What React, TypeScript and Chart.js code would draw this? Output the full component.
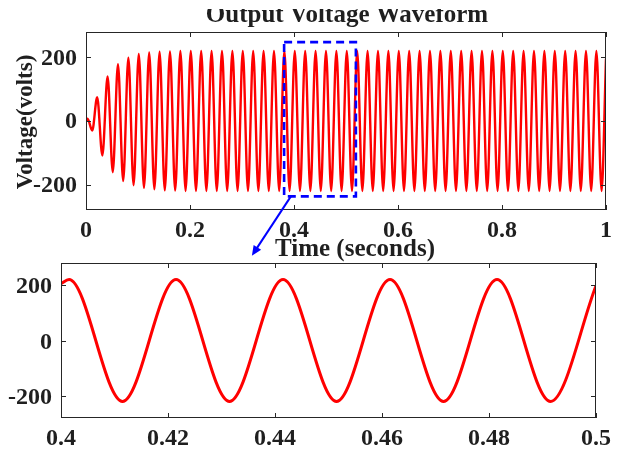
import { useEffect, useRef } from "react";
import { Chart, registerables } from "chart.js";

Chart.register(...registerables);

// Full run: turning points of the inverter output voltage (seconds, volts)
const overviewTimes = [
  0, 0.003, 0.012,
  0.0215, 0.0315, 0.0415, 0.0515, 0.0615, 0.0715, 0.0815, 0.0915, 0.1015, 0.1115,
  0.1215, 0.1315, 0.1415, 0.1515, 0.1615, 0.1715, 0.1815, 0.1915, 0.2015, 0.2115,
  0.2215, 0.2315, 0.2415, 0.2515, 0.2615, 0.2715, 0.2815, 0.2915, 0.3015, 0.3115,
  0.3215, 0.3315, 0.3415, 0.3515, 0.3615, 0.3715, 0.3815, 0.3915, 0.4015, 0.4115,
  0.4215, 0.4315, 0.4415, 0.4515, 0.4615, 0.4715, 0.4815, 0.4915, 0.5015, 0.5115,
  0.5215, 0.5315, 0.5415, 0.5515, 0.5615, 0.5715, 0.5815, 0.5915, 0.6015, 0.6115,
  0.6215, 0.6315, 0.6415, 0.6515, 0.6615, 0.6715, 0.6815, 0.6915, 0.7015, 0.7115,
  0.7215, 0.7315, 0.7415, 0.7515, 0.7615, 0.7715, 0.7815, 0.7915, 0.8015, 0.8115,
  0.8215, 0.8315, 0.8415, 0.8515, 0.8615, 0.8715, 0.8815, 0.8915, 0.9015, 0.9115,
  0.9215, 0.9315, 0.9415, 0.9515, 0.9615, 0.9715, 0.9815, 0.9915,
  1,
];
const overviewVolts = [
  0, 7, -30,
  75, -109, 140, -161, 179, -189, 199, -202, 211, -210,
  216, -215, 218, -218, 219, -219, 220, -220, 220, -220,
  220, -220, 220, -220, 220, -220, 220, -220, 220, -220,
  220, -220, 220, -220, 220, -220, 220, -220, 220, -220,
  220, -220, 220, -220, 220, -220, 220, -220, 220, -220,
  220, -220, 220, -220, 220, -220, 220, -220, 220, -220,
  220, -220, 220, -220, 220, -220, 220, -220, 220, -220,
  220, -220, 220, -220, 220, -220, 220, -220, 220, -220,
  220, -220, 220, -220, 220, -220, 220, -220, 220, -220,
  220, -220, 220, -220, 220, -220, 220, -220,
  196,
];
const overviewTicks = [0, 0.2, 0.4, 0.6, 0.8, 1];

// Close-up of 0.4 s to 0.5 s
const detailTimes = [0.4, 0.4015, 0.4115, 0.4215, 0.4315, 0.4415, 0.4515, 0.4615, 0.4715, 0.4815, 0.4915, 0.5];
const detailVolts = [205, 220, -220, 220, -220, 220, -220, 220, -220, 220, -220, 198];
const detailTicks = [0.4, 0.42, 0.44, 0.46, 0.48, 0.5];

const voltTicks = [-200, 0, 200];
const voltRange = [-280, 280];

// Highlighted window and the pointer to the close-up (overview axis units)
const windowTimes = [0.381, 0.519];
const windowVolts = [-237, 248];
const pointerFrom = [0.394, -237];
const pointerTo = [0.319, -424];

const SERIF = '"Liberation Serif", "Times New Roman", serif';
const INK = "#1f1f1f";
const AXIS = "#262626";
const RED = "#ff0000";
const BLUE = "#0000ff";
const TICK_LEN = 5;

type PanelStyle = {
  xTicks: number[];
  yTicks: number[];
  fontSize: number;
  xLabelDrop: number;
  yLabelGap: number;
  yLabelShift: number;
  decorate?: (chart: Chart) => void;
};

const toPoints = (xs: number[], ys: number[]) => xs.map((x, i) => ({ x, y: ys[i] }));

function panelPlugin(style: PanelStyle) {
  return {
    id: "panelFrame",
    afterDatasetsDraw(chart: Chart) {
      const { ctx, chartArea: a } = chart;
      const xs = chart.scales.x;
      const ys = chart.scales.y;
      ctx.save();
      ctx.setLineDash([]);
      ctx.strokeStyle = AXIS;
      ctx.lineWidth = 1;
      ctx.strokeRect(a.left + 0.5, a.top + 0.5, a.right - a.left - 1, a.bottom - a.top - 1);

      // inward tick marks on all four sides
      ctx.beginPath();
      for (const v of style.xTicks) {
        const px = Math.round(xs.getPixelForValue(v)) + 0.5;
        ctx.moveTo(px, a.bottom);
        ctx.lineTo(px, a.bottom - TICK_LEN);
        ctx.moveTo(px, a.top);
        ctx.lineTo(px, a.top + TICK_LEN);
      }
      for (const v of style.yTicks) {
        const py = Math.round(ys.getPixelForValue(v)) + 0.5;
        ctx.moveTo(a.left, py);
        ctx.lineTo(a.left + TICK_LEN, py);
        ctx.moveTo(a.right, py);
        ctx.lineTo(a.right - TICK_LEN, py);
      }
      ctx.stroke();

      ctx.fillStyle = INK;
      ctx.font = `bold ${style.fontSize}px ${SERIF}`;
      ctx.textBaseline = "middle";
      ctx.textAlign = "center";
      for (const v of style.xTicks) {
        ctx.fillText(String(v), xs.getPixelForValue(v), a.bottom + style.xLabelDrop);
      }
      ctx.textAlign = "right";
      for (const v of style.yTicks) {
        ctx.fillText(String(v), a.left - style.yLabelGap, ys.getPixelForValue(v) + style.yLabelShift);
      }
      ctx.restore();

      if (style.decorate) style.decorate(chart);
    },
  };
}

function decorateOverview(chart: Chart) {
  const { ctx, chartArea: a } = chart;
  const xs = chart.scales.x;
  const ys = chart.scales.y;
  const midX = (a.left + a.right) / 2;

  ctx.save();
  ctx.fillStyle = INK;

  // title, its top trimmed by the figure edge
  ctx.save();
  ctx.beginPath();
  ctx.rect(0, a.top - 23, chart.width, 40);
  ctx.clip();
  ctx.font = `bold 25px ${SERIF}`;
  ctx.textAlign = "center";
  ctx.textBaseline = "alphabetic";
  ctx.fillText("Output Voltage Waveform", midX + 1, a.top - 10);
  ctx.restore();

  // vertical axis title
  ctx.save();
  ctx.translate(a.left - 54, (a.top + a.bottom) / 2 + 1);
  ctx.rotate(-Math.PI / 2);
  ctx.font = `bold 23px ${SERIF}`;
  ctx.textAlign = "center";
  ctx.textBaseline = "alphabetic";
  ctx.fillText("Voltage(volts)", 0, 0);
  ctx.restore();

  // dashed window around the close-up interval
  const wx0 = xs.getPixelForValue(windowTimes[0]);
  const wx1 = xs.getPixelForValue(windowTimes[1]);
  const wy0 = ys.getPixelForValue(windowVolts[1]);
  const wy1 = ys.getPixelForValue(windowVolts[0]);
  ctx.strokeStyle = BLUE;
  ctx.lineWidth = 2.6;
  ctx.setLineDash([8, 5]);
  ctx.strokeRect(wx0, wy0, wx1 - wx0, wy1 - wy0);
  ctx.setLineDash([]);

  // pointer down to the close-up panel
  const ax0 = xs.getPixelForValue(pointerFrom[0]);
  const ay0 = ys.getPixelForValue(pointerFrom[1]);
  const ax1 = xs.getPixelForValue(pointerTo[0]);
  const ay1 = ys.getPixelForValue(pointerTo[1]);
  const ang = Math.atan2(ay1 - ay0, ax1 - ax0);
  const head = 11;
  const spread = 0.42;
  ctx.lineWidth = 2;
  ctx.beginPath();
  ctx.moveTo(ax0, ay0);
  ctx.lineTo(ax1 - Math.cos(ang) * head * 0.8, ay1 - Math.sin(ang) * head * 0.8);
  ctx.stroke();
  ctx.fillStyle = BLUE;
  ctx.beginPath();
  ctx.moveTo(ax1, ay1);
  ctx.lineTo(ax1 - head * Math.cos(ang - spread), ay1 - head * Math.sin(ang - spread));
  ctx.lineTo(ax1 - head * Math.cos(ang + spread), ay1 - head * Math.sin(ang + spread));
  ctx.closePath();
  ctx.fill();

  // horizontal axis title on its own white strip
  const bx = midX - 78;
  const by = a.bottom + 28;
  ctx.fillStyle = "#ffffff";
  ctx.fillRect(bx, by, 172, 24);
  ctx.beginPath();
  ctx.rect(bx, by + 1, 172, 24);
  ctx.clip();
  ctx.fillStyle = INK;
  ctx.font = `bold 25px ${SERIF}`;
  ctx.textAlign = "center";
  ctx.textBaseline = "alphabetic";
  ctx.fillText("Time (seconds)", midX + 9, a.bottom + 46);
  ctx.restore();
}

function buildChart(
  canvas: HTMLCanvasElement,
  xs: number[],
  ys: number[],
  xRange: number[],
  padding: { left: number; top: number; right: number; bottom: number },
  lineWidth: number,
  style: PanelStyle
) {
  return new Chart(canvas, {
    type: "line",
    data: {
      datasets: [
        {
          data: toPoints(xs, ys),
          borderColor: RED,
          borderWidth: lineWidth,
          pointRadius: 0,
          fill: false,
          cubicInterpolationMode: "monotone",
        },
      ],
    },
    options: {
      responsive: false,
      animation: false,
      events: [],
      layout: { padding },
      plugins: {
        legend: { display: false },
        title: { display: false },
        tooltip: { enabled: false },
      },
      scales: {
        x: { type: "linear", min: xRange[0], max: xRange[1], display: false },
        y: { type: "linear", min: voltRange[0], max: voltRange[1], display: false },
      },
    },
    plugins: [panelPlugin(style)],
  } as any);
}

export default function App() {
  const topRef = useRef<HTMLCanvasElement | null>(null);
  const bottomRef = useRef<HTMLCanvasElement | null>(null);

  useEffect(() => {
    if (!topRef.current || !bottomRef.current) return;
    const overview = buildChart(
      topRef.current,
      overviewTimes,
      overviewVolts,
      [0, 1],
      { left: 86, top: 32, right: 19, bottom: 243 },
      2.4,
      {
        xTicks: overviewTicks,
        yTicks: voltTicks,
        fontSize: 24,
        xLabelDrop: 21,
        yLabelGap: 9,
        yLabelShift: 1,
        decorate: decorateOverview,
      }
    );
    const detail = buildChart(
      bottomRef.current,
      detailTimes,
      detailVolts,
      [0.4, 0.5],
      { left: 61, top: 263, right: 29, bottom: 35 },
      3,
      {
        xTicks: detailTicks,
        yTicks: voltTicks,
        fontSize: 24,
        xLabelDrop: 21,
        yLabelGap: 9,
        yLabelShift: 2,
      }
    );
    return () => {
      overview.destroy();
      detail.destroy();
    };
  }, []);

  const layer: React.CSSProperties = { position: "absolute", left: 0, top: 0 };
  return (
    <div style={{ position: "absolute", left: 0, top: 0, width: 625, height: 453, background: "#ffffff" }}>
      <canvas ref={bottomRef} width={625} height={453} style={layer} />
      <canvas ref={topRef} width={625} height={453} style={layer} />
    </div>
  );
}
